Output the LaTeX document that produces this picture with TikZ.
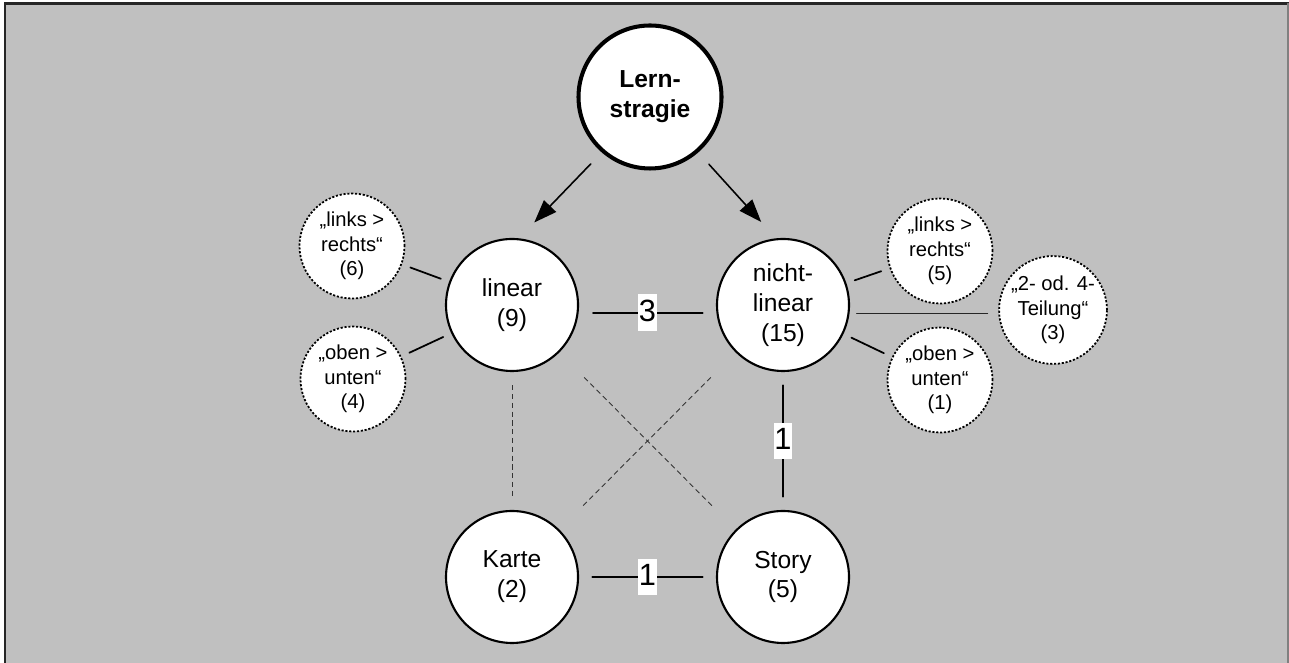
\documentclass[tikz,border=0pt]{standalone}
\usepackage{fontspec}
\setmainfont{Liberation Sans}
\usetikzlibrary{arrows.meta}
\definecolor{bggray}{RGB}{192,192,192}

\begin{document}
\begin{tikzpicture}[>={Triangle[length=13pt,width=9.5pt]},line cap=round,
  knoten/.style={circle,draw,fill=white,line width=1.2pt,minimum size=2.64cm,inner sep=0pt,align=center,font=\fontsize{14}{17}\selectfont},
  variante/.style={circle,draw,fill=white,line width=1pt,line cap=butt,dash pattern=on 1.2pt off 1pt,minimum size=2.1cm,inner sep=0pt,align=center,font=\fontsize{11.5}{14}\selectfont},
  zahl/.style={fill=white,inner xsep=0.4pt,inner ysep=1.5pt,text height=14pt,text depth=4pt,font=\fontsize{17.5}{20}\selectfont},
  bezug/.style={line width=1pt,shorten <=5pt,shorten >=5pt},
  quer/.style={gray!40!black,line width=0.5pt,line cap=butt,dash pattern=on 3pt off 2pt}]
\useasboundingbox (0,0) rectangle (25.78,13.26);
\fill[bggray] (0.1,0) rectangle (25.78,13.19);
\draw[black!85,line width=1.5pt,line cap=butt] (0.1,0) -- (0.1,13.19) -- (25.78,13.19);
\draw[gray,line width=0.6pt] (25.76,13.19) -- (25.76,0);

\node[knoten,line width=2.3pt,minimum size=2.86cm,font=\bfseries\fontsize{14}{17}\selectfont] (lern) at (13.0,11.32) {Lern-\\stragie};
\node[knoten] (linear) at (10.24,7.16) {linear\\(9)};
\node[knoten] (nichtlinear) at (15.66,7.16) {nicht-\\linear\\(15)};
\node[knoten] (karte) at (10.24,1.72) {Karte\\(2)};
\node[knoten] (story) at (15.66,1.72) {Story\\(5)};

\node[variante] (lr6) at (7.04,8.34) {„links >\\rechts“\\(6)};
\node[variante] (ou4) at (7.06,5.68) {„oben >\\unten“\\(4)};
\node[variante] (lr5) at (18.8,8.24) {„links >\\rechts“\\(5)};
\node[variante] (teil3) at (21.06,7.06) {„2- od. 4-\\Teilung“\\(3)};
\node[variante] (ou1) at (18.8,5.66) {„oben >\\unten“\\(1)};

\draw[->,line width=0.9pt,shorten <=9pt,shorten >=12.5pt] (lern.229) -- (linear.84);
\draw[->,line width=0.9pt,shorten <=9pt,shorten >=12.5pt] (lern.-49) -- (nichtlinear.96);

\draw[line width=1pt,shorten <=8pt,shorten >=7.5pt] ([yshift=-4.5pt]linear.east) -- node[zahl]{3} ([yshift=-4.5pt]nichtlinear.west);
\draw[line width=1pt,shorten <=7.5pt,shorten >=7.5pt] (nichtlinear) -- node[zahl]{1} (story);
\draw[line width=1pt,shorten <=7.5pt,shorten >=7.5pt] (karte) -- node[zahl]{1} (story);

\draw[quer,shorten <=7.5pt,shorten >=7.5pt] (linear) -- (karte);
\draw[quer,shorten <=20pt,shorten >=19pt] (linear) -- (story);
\draw[quer,shorten <=20pt,shorten >=19pt] (nichtlinear) -- (karte);

\draw[bezug] (linear) -- (lr6);
\draw[bezug] (linear) -- (ou4);
\draw[bezug] (nichtlinear) -- (lr5);
\draw[bezug] (nichtlinear) -- (ou1);
\draw[gray!30!black,line width=0.5pt,shorten <=4pt,shorten >=6pt] (nichtlinear.-7) -- (teil3.west |- nichtlinear.-7);
\end{tikzpicture}
\end{document}
